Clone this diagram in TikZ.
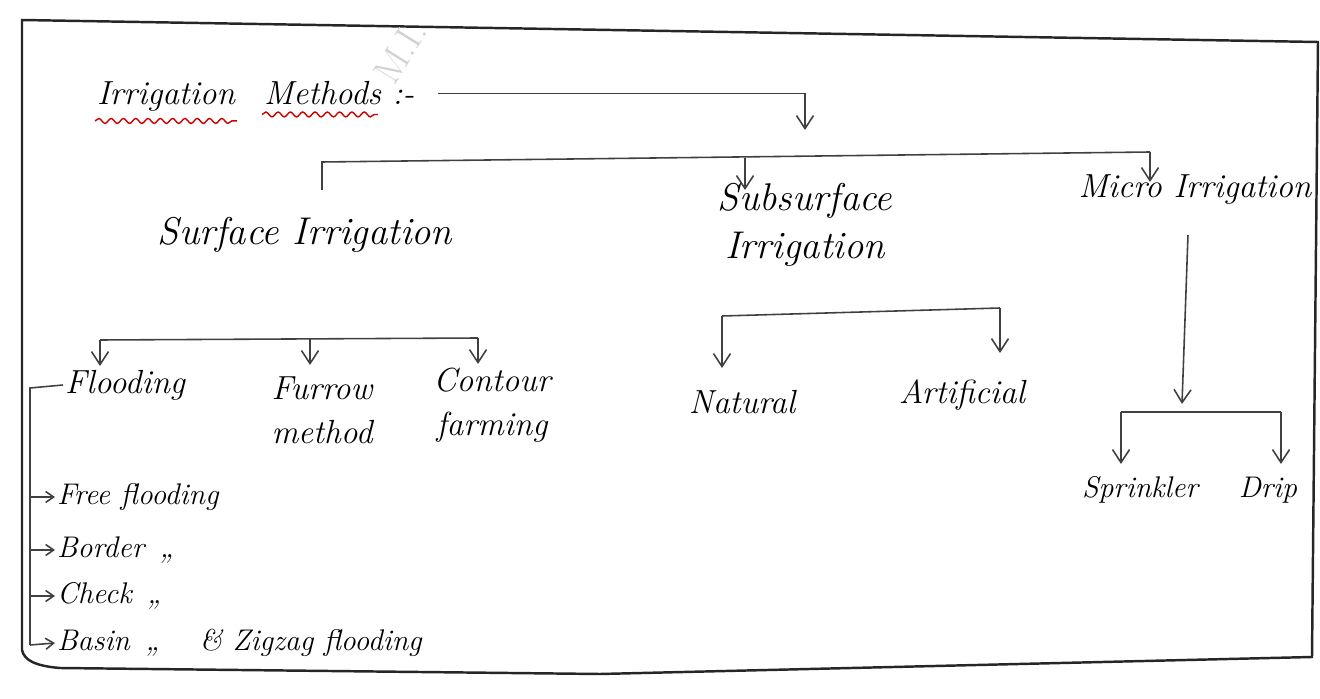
\documentclass[tikz,border=0pt]{standalone}
\usetikzlibrary{arrows.meta,decorations.pathmorphing}
\begin{document}
\begin{tikzpicture}[x=0.02cm,y=-0.02cm,
  big/.style={font=\fontsize{22}{27}\selectfont\itshape, inner sep=1pt, align=center},
  mid/.style={font=\fontsize{19}{25}\selectfont\itshape, inner sep=1pt, align=center},
  small/.style={font=\fontsize{17}{20}\selectfont\itshape, inner sep=1pt},
  link/.style={line width=0.9pt, draw=black!75},
  down/.style={link, -{Straight Barb[length=2.6mm,width=3.4mm]}},
  tick/.style={link, -{Straight Barb[length=1.6mm,width=2.2mm]}},
  wavy/.style={draw=red!80!black, line width=0.8pt, decorate,
    decoration={snake, amplitude=1.4pt, segment length=7pt}}]

  \useasboundingbox (0,0) rectangle (1320,699);

  % page frame
  \draw[line width=1.4pt, black!85] (22,650) -- (22,20) -- (1318,42) -- (1312,657) -- (600,674) -- (60,668)
    .. controls (35,666) and (24,660) .. (22,650);
  \node[rotate=58, black!18, font=\fontsize{22}{22}\selectfont] (mark) at (400,52) {M.I.};

  % heading
  \node[mid, anchor=base west] (irr) at (95,105) {Irrigation};
  \node[mid, anchor=base west] (meth) at (262,105) {Methods :-};
  \draw[wavy] ([yshift=-4pt]irr.south west) -- ([yshift=-4pt]irr.south east);
  \draw[wavy] ([yshift=-4pt]meth.south west) -- ([yshift=-4pt,xshift=-22pt]meth.south east);

  % main types
  \node[big] (surf) at (305,235) {Surface Irrigation};
  \node[big] (sub) at (805,225) {Subsurface\\Irrigation};
  \node[mid] (micro) at (1195,190) {Micro Irrigation};

  \coordinate (t1) at (805,130);
  \draw[down] ([xshift=12pt]meth.east) -| (t1);
  \coordinate (s1) at (322,190);
  \coordinate (b1) at (322,162);
  \coordinate (b2) at (1150,152);
  \coordinate (b3) at (745,158);
  \draw[link] (s1) -- (b1) -- (b2);
  \draw[down] (b3) -- ++(0,32);
  \draw[down] (b2) -- ++(0,30);

  % surface irrigation
  \node[mid] (flood) at (125,385) {Flooding};
  \node[mid] (furrow) at (322,410) {Furrow\\method};
  \node[mid] (contour) at (492,405) {Contour\\farming};
  \coordinate (c1) at (100,340);
  \coordinate (c2) at (310,339);
  \coordinate (c3) at (478,338);
  \draw[link] (c1) -- (c3);
  \draw[down] (c1) -- ++(0,26);
  \draw[down] (c2) -- ++(0,26);
  \draw[down] (c3) -- ++(0,26);

  % kinds of flooding
  \node[small, anchor=west] (free) at (55,497) {Free flooding};
  \node[small, anchor=west] (border) at (55,550) {Border \,,,};
  \node[small, anchor=west] (check) at (55,596) {Check \,,,};
  \node[small, anchor=west] (basin) at (55,643) {Basin \,,, \quad \& Zigzag flooding};
  \coordinate (f0) at (30,388);
  \coordinate (f1) at (30,645);
  \draw[link] (flood.west) -- (f0) -- (f1);
  \draw[tick] (f0 |- free.west) -- (free.west);
  \draw[tick] (f0 |- border.west) -- (border.west);
  \draw[tick] (f0 |- check.west) -- (check.west);
  \draw[tick] (f1) -- (basin.west);

  % subsurface irrigation
  \node[mid] (nat) at (742,402) {Natural};
  \node[mid] (art) at (962,395) {Artificial};
  \coordinate (n1) at (722,316);
  \coordinate (n2) at (1000,308);
  \draw[link] (n1) -- (n2);
  \draw[down] (n1) -- ++(0,52);
  \draw[down] (n2) -- ++(0,45);

  % micro irrigation
  \node[small] (sprink) at (1140,490) {Sprinkler};
  \node[small] (drip) at (1268,490) {Drip};
  \coordinate (m1) at (1188,235);
  \coordinate (m2) at (1182,404);
  \coordinate (d1) at (1121,412);
  \coordinate (d2) at (1281,412);
  \draw[down] (m1) -- (m2);
  \draw[link] (d1) -- (d2);
  \draw[down] (d1) -- ++(0,52);
  \draw[down] (d2) -- ++(0,52);
\end{tikzpicture}
\end{document}
